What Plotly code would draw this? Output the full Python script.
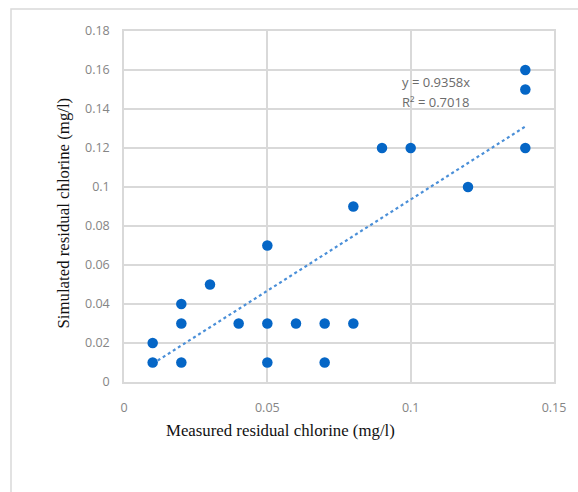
import plotly.graph_objects as go

measured = [0.01, 0.01, 0.02, 0.02, 0.02, 0.03, 0.04, 0.05, 0.05, 0.05, 0.06,
            0.07, 0.07, 0.08, 0.08, 0.09, 0.10, 0.12, 0.14, 0.14, 0.14]
simulated = [0.01, 0.02, 0.01, 0.03, 0.04, 0.05, 0.03, 0.01, 0.03, 0.07, 0.03,
             0.01, 0.03, 0.03, 0.09, 0.12, 0.12, 0.10, 0.12, 0.15, 0.16]
slope = 0.9358
r2 = 0.7018
x_ticks = [0, 0.05, 0.1, 0.15]
x_tick_labels = ["0", "0.05", "0.1", "0.15"]
y_ticks = [0, 0.02, 0.04, 0.06, 0.08, 0.1, 0.12, 0.14, 0.16, 0.18]
y_tick_labels = ["0", "0.02", "0.04", "0.06", "0.08", "0.1", "0.12", "0.14", "0.16", "0.18"]

trend_x = [min(measured), max(measured)]
trend_y = [slope * v for v in trend_x]

fig = go.Figure()
fig.add_trace(go.Scatter(x=trend_x, y=trend_y, mode="lines",
                         line=dict(color="#4A8FD8", width=2.2, dash="dot"),
                         hoverinfo="skip", showlegend=False))
fig.add_trace(go.Scatter(x=measured, y=simulated, mode="markers",
                         marker=dict(color="#0566C6", size=10.5),
                         showlegend=False))

grid = "#d9d9d9"
tickfont = dict(family="Open Sans, Liberation Sans, sans-serif", size=12.5, color="#858585")
fig.update_xaxes(range=[0, 0.15], tickvals=x_ticks, ticktext=x_tick_labels,
                 showgrid=True, gridcolor=grid, gridwidth=1.5, zeroline=False,
                 showline=True, linecolor=grid, linewidth=1.5, mirror=True,
                 tickfont=tickfont, ticks="", ticklabelstandoff=13)
fig.update_yaxes(range=[0, 0.18], tickvals=y_ticks, ticktext=y_tick_labels,
                 showgrid=True, gridcolor=grid, gridwidth=1.5, zeroline=False,
                 showline=True, linecolor=grid, linewidth=1.5, mirror=True,
                 tickfont=tickfont, ticks="", ticklabelstandoff=10)

L, R, T, B = 124, 24, 31, 110
W, H = 578, 492
pw, ph = W - L - R, H - T - B

def px(xp):
    return (xp - L) / pw

def py(yp):
    return (H - B - yp) / ph

fig.add_shape(type="rect", xref="paper", yref="paper",
              x0=px(11), x1=px(590), y0=py(9), y1=py(510),
              line=dict(color="#d9d9d9", width=1.5), layer="below")

title_font = dict(family="Liberation Serif, serif", size=16.8, color="#111111")
fig.add_annotation(xref="paper", yref="paper", x=px(280), y=py(442),
                   text="Measured residual chlorine (mg/l)", showarrow=False,
                   font=title_font)
fig.add_annotation(xref="paper", yref="paper", x=px(51), y=py(213), textangle=-90,
                   text="Simulated residual chlorine (mg/l)", showarrow=False,
                   font=title_font)
eq_font = dict(family="Open Sans, Liberation Sans, sans-serif", size=13, color="#6b6b6b")
fig.add_annotation(xref="paper", yref="paper", x=px(400), y=py(82), xanchor="left",
                   yanchor="middle", text=f"y = {slope}x", showarrow=False, font=eq_font)
fig.add_annotation(xref="paper", yref="paper", x=px(400), y=py(102), xanchor="left",
                   yanchor="middle", text=f"R² = {r2}", showarrow=False, font=eq_font)

fig.update_layout(width=W, height=H, margin=dict(l=L, r=R, t=T, b=B),
                  plot_bgcolor="white", paper_bgcolor="white")
fig.write_html("out.html")
